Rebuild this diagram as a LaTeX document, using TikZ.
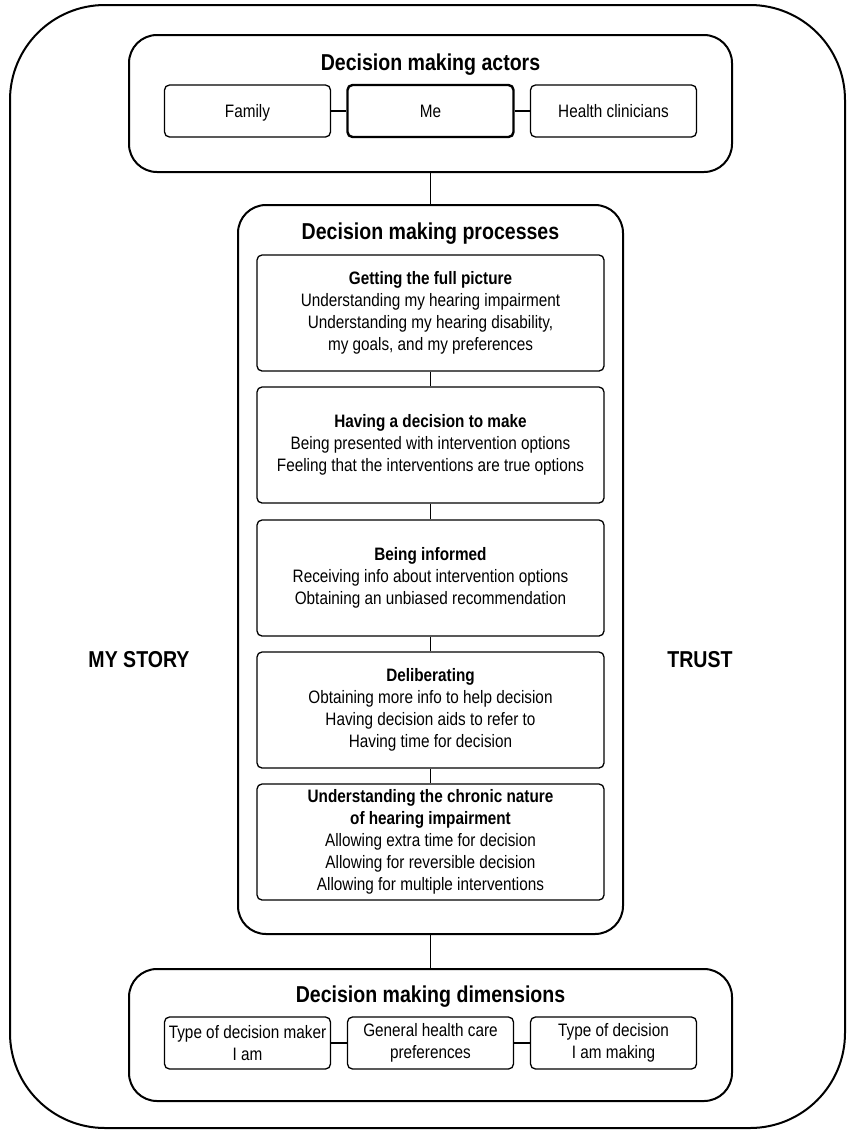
\documentclass[tikz,border=0pt]{standalone}
\usepackage{fontspec}
\setmainfont[FakeStretch=0.85]{Liberation Sans}
\begin{document}
\begin{tikzpicture}[x=1pt,y=-1pt,
  outerbox/.style={draw=black, line width=2pt, rounded corners=95pt, inner sep=0pt},
  sectbox/.style={draw=black, line width=2pt, rounded corners=28pt, inner sep=0pt},
  itembox/.style={draw=black, line width=1.3pt, rounded corners=5pt, inner sep=0pt, minimum width=166pt, minimum height=52pt, align=center, font=\fontsize{18}{22}\selectfont},
  onelinebox/.style={itembox, text height=13pt, text depth=0pt},
  mebox/.style={onelinebox, line width=2.4pt},
  stepbox/.style={draw=black, line width=1.3pt, rounded corners=5pt, inner sep=0pt, minimum width=347pt, minimum height=116pt, align=center, font=\fontsize{18}{22}\selectfont},
  titletext/.style={font=\bfseries\fontsize{23}{27}\selectfont, inner sep=0pt},
  link/.style={draw=black, line width=1.3pt}
]
\useasboundingbox (0,0) rectangle (851,1133);
% outer frame
\node[outerbox, minimum width=835pt, minimum height=1123pt] (outer) at (427.5,566.5) {};
% actors
\node[sectbox, minimum width=603pt, minimum height=137pt] (actors) at (430.5,103.5) {};
\node[titletext] (actorsT) at (430.5,65) {Decision making actors\strut};
\node[onelinebox] (family) at (247.5,111) {Family};
\node[mebox] (me) at (430.5,111) {Me};
\node[onelinebox] (clin) at (613.5,111) {Health clinicians};
\draw[link] (family.east) -- (me.west);
\draw[link] (me.east) -- (clin.west);
% processes
\node[sectbox, minimum width=385pt, minimum height=729pt] (proc) at (430.5,569.5) {};
\node[titletext] (procT) at (430.5,234) {Decision making processes\strut};
\node[stepbox] (s1) at (430.5,313) {\textbf{Getting the full picture}\\Understanding my hearing impairment\\Understanding my hearing disability,\\my goals, and my preferences};
\node[stepbox] (s2) at (430.5,445) {\textbf{Having a decision to make}\\Being presented with intervention options\\Feeling that the interventions are true options};
\node[stepbox] (s3) at (430.5,578) {\textbf{Being informed}\\Receiving info about intervention options\\Obtaining an unbiased recommendation};
\node[stepbox] (s4) at (430.5,710) {\textbf{Deliberating}\\Obtaining more info to help decision\\Having decision aids to refer to\\Having time for decision};
\node[stepbox] (s5) at (430.5,842) {\textbf{Understanding the chronic nature}\\\textbf{of hearing impairment}\\Allowing extra time for decision\\Allowing for reversible decision\\Allowing for multiple interventions};
\draw[link] (s1.south) -- (s2.north);
\draw[link] (s2.south) -- (s3.north);
\draw[link] (s3.south) -- (s4.north);
\draw[link] (s4.south) -- (s5.north);
% dimensions
\node[sectbox, minimum width=603pt, minimum height=132pt] (dims) at (430.5,1035) {};
\node[titletext] (dimsT) at (430.5,997) {Decision making dimensions\strut};
\node[itembox] (d1) at (247.5,1043) {Type of decision maker\\I am};
\node[itembox] (d2) at (430.5,1043) {General health care\\preferences};
\node[itembox] (d3) at (613.5,1043) {Type of decision\\I am making};
\draw[link] (d1.east) -- (d2.west);
\draw[link] (d2.east) -- (d3.west);
% section links
\draw[link] (actors.south) -- (proc.north);
\draw[link] (proc.south) -- (dims.north);
% side labels
\node[titletext] (story) at (139,662) {MY STORY\strut};
\node[titletext] (trust) at (700,662) {TRUST\strut};
\end{tikzpicture}
\end{document}
